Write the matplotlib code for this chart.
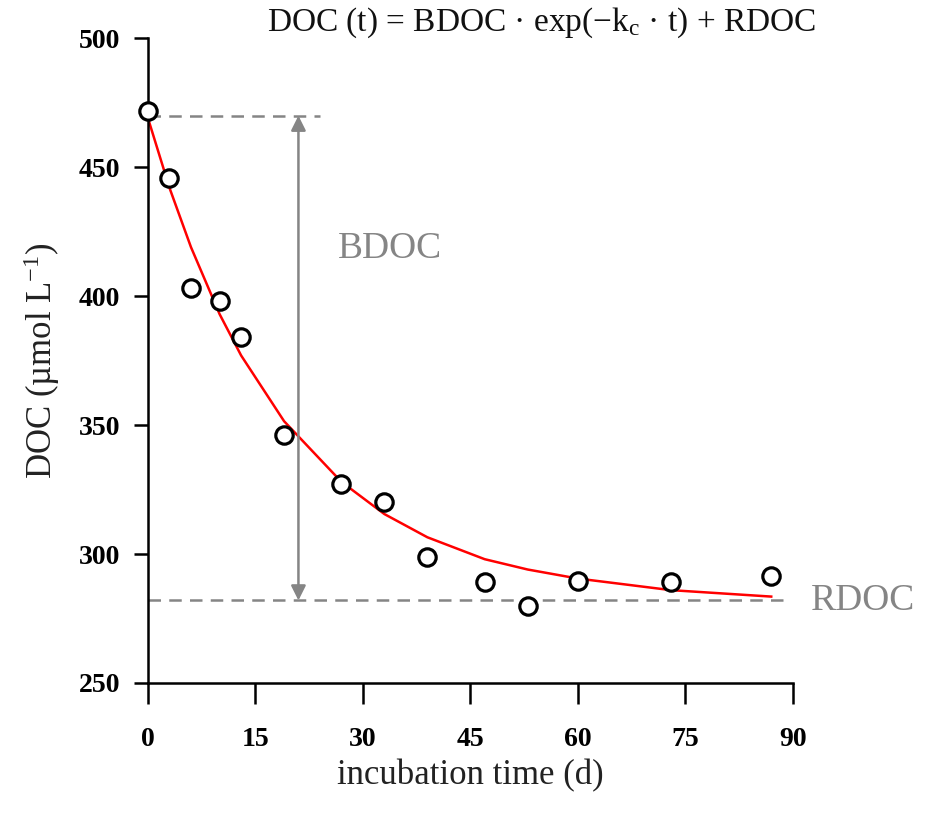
import matplotlib
matplotlib.use("Agg")
import matplotlib.pyplot as plt

plt.rcParams['font.family'] = ['Liberation Serif', 'DejaVu Serif']
plt.rcParams['mathtext.fontset'] = 'custom'
plt.rcParams['mathtext.rm'] = 'Liberation Serif'
plt.rcParams['mathtext.it'] = 'Liberation Serif'

# measured DOC (umol/L) during incubation
days = [0, 3, 6, 10, 13, 19, 27, 33, 39, 47, 53, 60, 73, 87]
doc = [472, 446, 403, 398, 384, 346, 327, 320, 299, 289, 280, 289.5, 289, 291.5]
# fitted curve values at the same days
doc_fit = [469, 442, 419, 393, 377, 351.5, 328, 315.5, 306.5, 298, 294, 290.5, 286, 283.5]

bdoc_top = 470
rdoc_level = 282
arrow_day = 21

xticks = [0, 15, 30, 45, 60, 75, 90]
yticks = [250, 300, 350, 400, 450, 500]

gray = '#858585'

fig = plt.figure(figsize=(9.25, 8.15), dpi=100)
ax = fig.add_axes([0.16, 0.162, 0.697, 0.791])

ax.plot([0, 24], [bdoc_top, bdoc_top], color=gray, lw=1.8,
        linestyle=(0, (5, 3.3)), zorder=1)
ax.plot([0, 89.5], [rdoc_level, rdoc_level], color=gray, lw=1.8,
        linestyle=(0, (5, 3.3)), zorder=1)
ax.annotate('', xy=(arrow_day, bdoc_top), xytext=(arrow_day, rdoc_level),
            arrowprops=dict(arrowstyle='<|-|>', color=gray, lw=1.8,
                            mutation_scale=22, shrinkA=0, shrinkB=0))

ax.plot(days, doc_fit, color='red', lw=1.8, zorder=2)
ax.plot(days, doc, 'o', mfc='white', mec='black', ms=12.5, mew=2.3,
        zorder=3, clip_on=False)

ax.text(26.5, 418.5, 'BDOC', color=gray, fontsize=27, ha='left', va='center')
ax.text(92.6, rdoc_level, 'RDOC', color=gray, fontsize=27, ha='left',
        va='center', clip_on=False)

ax.set_xlim(0, 90)
ax.set_ylim(250, 500)
ax.set_xticks(xticks)
ax.set_yticks(yticks)
for lab in ax.get_xticklabels() + ax.get_yticklabels():
    lab.set_fontweight('bold')
ax.tick_params(axis='x', length=15, width=1.8, pad=17, labelsize=20)
ax.tick_params(axis='y', length=10, width=1.8, pad=10, labelsize=20)

for s in ['top', 'right']:
    ax.spines[s].set_visible(False)
for s in ['left', 'bottom']:
    ax.spines[s].set_linewidth(1.8)

ax.set_xlabel('incubation time (d)', fontsize=25, color='#222222', labelpad=5)
ax.set_ylabel('DOC (µmol L$^{\\mathrm{-1}}$)', fontsize=25, color='#222222',
              labelpad=12)

fig.text(0.585, 0.972, 'DOC (t) = BDOC · exp(−k$_\\mathrm{c}$ · t) + RDOC',
         fontsize=24, ha='center', va='center', color='#111111')

fig.savefig('out.png', dpi=100)
